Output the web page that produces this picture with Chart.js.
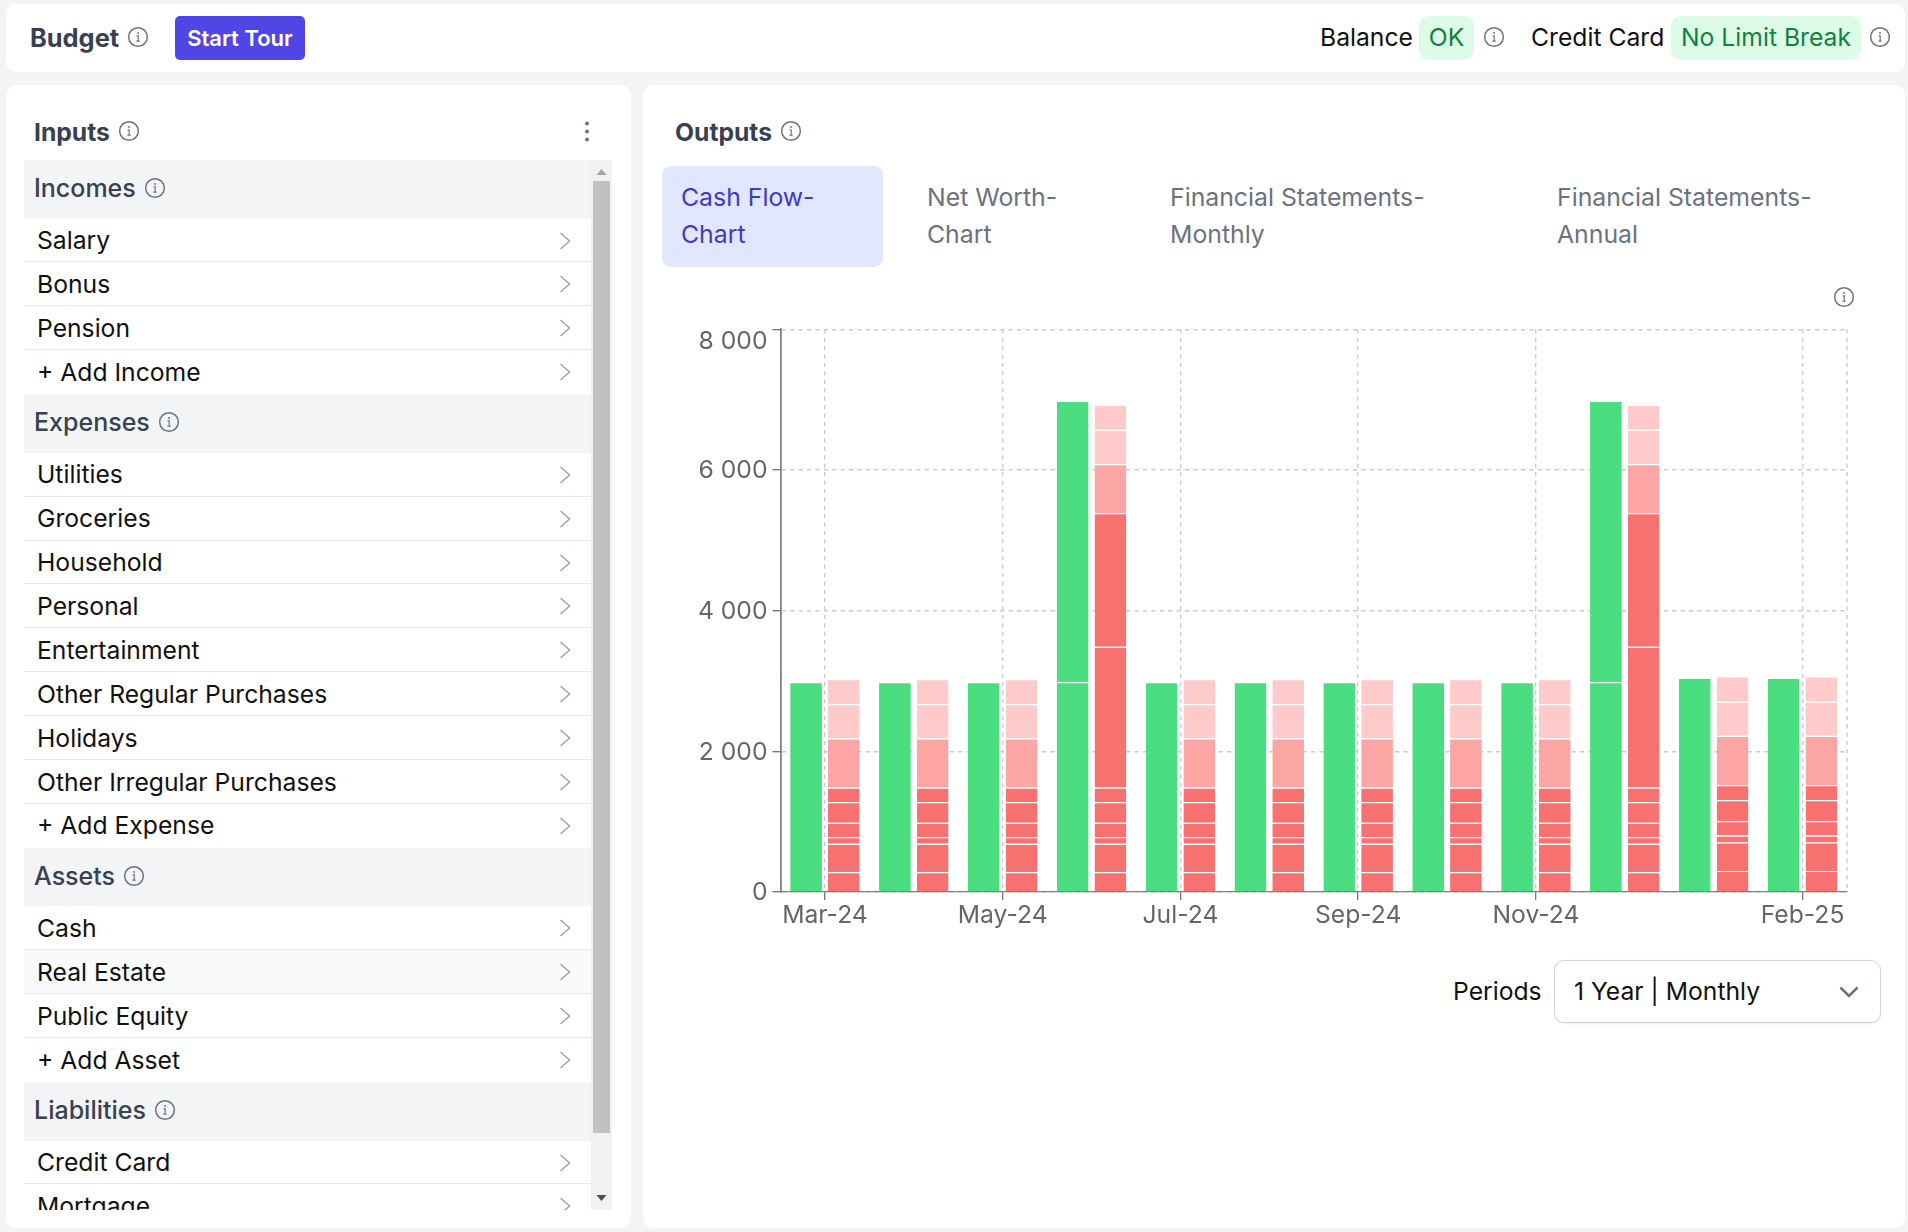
<!DOCTYPE html>
<html>
<head>
<meta charset="utf-8">
<title>Budget</title>
<script src="https://cdn.jsdelivr.net/npm/chart.js@4"></script>
<style>
html, body { margin: 0; padding: 0; }
body { width: 1908px; height: 1232px; background: #f3f4f6; font-family: Inter, sans-serif; position: relative; overflow: hidden; color: #111; }
.abs { position: absolute; white-space: nowrap; line-height: 1; }
.panel { position: absolute; background: #fff; border-radius: 10px; }
.title { font-size: 24.7px; font-weight: 700; color: #374151; transform: translateY(-50%); }
.info { position: absolute; width: 21px; height: 21px; transform: translate(-50%, -50%); }
.label { font-size: 24.7px; transform: translateY(-50%); }
.badge { position: absolute; top: 16px; height: 44px; line-height: 43px; background: #dcfce7; color: #15803d; font-size: 24.7px; border-radius: 10px; text-align: center; }
#startTour { position: absolute; left: 175px; top: 16px; width: 130px; height: 44px; line-height: 44px; background: #4f46e5; color: #fff; font-size: 22px; font-weight: 600; text-align: center; border-radius: 5px; }
#list { position: absolute; left: 24px; top: 160px; width: 588px; height: 1050px; overflow: hidden; }
.section { position: relative; width: 567px; height: 58.6px; background: #f3f4f6; }
.section span { position: absolute; left: 10px; top: 28px; transform: translateY(-50%); font-size: 25px; font-weight: 500; color: #374151; line-height: 1; }
.row { position: relative; width: 567px; height: 43.9px; box-sizing: border-box; border-bottom: 1px solid #e5e7eb; }
.row.last { border-bottom: none; }
.row.hover { background: #f9fafb; }
.row span { position: absolute; left: 13px; top: 21.6px; transform: translateY(-50%); font-size: 24.7px; color: #111; line-height: 1; }
.row svg { position: absolute; left: 535px; top: 13px; width: 12px; height: 18px; }
#track { position: absolute; left: 591px; top: 160px; width: 21px; height: 1050px; background: #f1f1f1; }
#thumb { position: absolute; left: 2px; top: 21px; width: 17px; height: 952px; background: #c1c1c1; }
.tab { position: absolute; top: 166px; height: 101px; box-sizing: border-box; padding-top: 13px; font-size: 24.8px; line-height: 37px; color: #6b7280; white-space: pre; }
#tabActive { left: 662px; width: 221px; padding-left: 19px; background: #e0e7ff; color: #4338ca; border-radius: 9px; }
#select { position: absolute; left: 1554px; top: 960px; width: 327px; height: 63px; box-sizing: border-box; background: #fff; border: 1px solid #d1d5db; border-radius: 10px; box-shadow: 0 1px 2px rgba(0,0,0,.08); }
#select span { position: absolute; left: 19px; top: 30px; transform: translateY(-50%); font-size: 24.7px; line-height: 1; white-space: nowrap; }
#select svg { position: absolute; left: 284px; top: 24px; width: 20px; height: 14px; }
#chartBox { position: absolute; left: 660px; top: 300px; width: 1240px; height: 650px; }
</style>
</head>
<body>
<svg width="0" height="0" style="position:absolute">
  <symbol id="i" viewBox="0 0 20 20">
    <circle cx="10" cy="10" r="8.9" fill="none" stroke="#6b7280" stroke-width="1.4"/>
    <circle cx="10" cy="6.2" r="0.9" fill="#6b7280"/>
    <path d="M8.6 9h1.6v5M8.4 14h3.2" fill="none" stroke="#6b7280" stroke-width="1.1"/>
  </symbol>
  <symbol id="chev" viewBox="0 0 12 18">
    <path d="M1.5 1 L10.5 9 L1.5 17" fill="none" stroke="#9ca3af" stroke-width="1.5"/>
  </symbol>
</svg>

<div class="panel" style="left:6px;top:4px;width:1899px;height:68px"></div>
<div class="panel" style="left:6px;top:85px;width:625px;height:1143px"></div>
<div class="panel" style="left:643px;top:85px;width:1262px;height:1143px"></div>

<span class="abs title" style="left:30px;top:37.5px;font-size:25.4px">Budget</span>
<svg class="info" style="left:137.5px;top:37px"><use href="#i"/></svg>
<div id="startTour">Start Tour</div>

<span class="abs label" style="left:1320px;top:37px">Balance</span>
<div class="badge" style="left:1419px;width:55px">OK</div>
<svg class="info" style="left:1493.5px;top:37px"><use href="#i"/></svg>
<span class="abs label" style="left:1531px;top:37px">Credit Card</span>
<div class="badge" style="left:1671px;width:190px">No Limit Break</div>
<svg class="info" style="left:1880px;top:37px"><use href="#i"/></svg>

<span class="abs title" style="left:34px;top:131.5px">Inputs</span>
<svg class="info" style="left:128.6px;top:131px"><use href="#i"/></svg>
<svg style="position:absolute;left:583px;top:120px" width="8" height="24">
  <circle cx="4" cy="3.5" r="2" fill="#6b7280"/><circle cx="4" cy="11.5" r="2" fill="#6b7280"/><circle cx="4" cy="19.5" r="2" fill="#6b7280"/>
</svg>

<div id="list"></div>
<div id="track">
  <div id="thumb"></div>
  <svg style="position:absolute;left:5px;top:8px" width="11" height="8"><path d="M0.5 7 L5.5 1 L10.5 7 Z" fill="#a3a3a3"/></svg>
  <svg style="position:absolute;left:5px;top:1034px" width="11" height="8"><path d="M0.5 1 L5.5 7 L10.5 1 Z" fill="#505050"/></svg>
</div>

<span class="abs title" style="left:675px;top:131.5px">Outputs</span>
<svg class="info" style="left:791px;top:131px"><use href="#i"/></svg>
<div class="tab" id="tabActive">Cash Flow-
Chart</div>
<div class="tab" style="left:927px">Net Worth-
Chart</div>
<div class="tab" style="left:1170px">Financial Statements-
Monthly</div>
<div class="tab" style="left:1557px">Financial Statements-
Annual</div>
<svg class="info" style="left:1843.5px;top:297px"><use href="#i"/></svg>

<div id="chartBox"><canvas id="flowChart" width="1240" height="650"></canvas></div>

<span class="abs label" style="left:1453px;top:991px">Periods</span>
<div id="select">
  <span>1 Year | Monthly</span>
  <svg viewBox="0 0 20 14"><path d="M1.5 2.5 L10 11 L18.5 2.5" fill="none" stroke="#6b7280" stroke-width="2.6"/></svg>
</div>

<script>
// Chart data
const months = ['Mar-24', 'Apr-24', 'May-24', 'Jun-24', 'Jul-24', 'Aug-24', 'Sep-24', 'Oct-24', 'Nov-24', 'Dec-24', 'Jan-25', 'Feb-25'];
const shownMonths = ['Mar-24', 'May-24', 'Jul-24', 'Sep-24', 'Nov-24', 'Feb-25'];
const yTicks = [0, 2000, 4000, 6000, 8000];

// Inflows
const inflowBase = [2985, 2985, 2985, 2985, 2985, 2985, 2985, 2985, 2985, 2985, 3045, 3045];
const inflowBonus = [0, 0, 0, 4000, 0, 0, 0, 0, 0, 4000, 0, 0];

// Outflows, bottom to top
const outflow1 = [285, 285, 285, 285, 285, 285, 285, 285, 285, 285, 300, 300];
const outflow2 = [400, 400, 400, 400, 400, 400, 400, 400, 400, 400, 405, 405];
const outflow3 = [96, 96, 96, 96, 96, 96, 96, 96, 96, 96, 98, 98];
const outflow4 = [204, 204, 204, 204, 204, 204, 204, 204, 204, 204, 207, 207];
const outflow5 = [293, 293, 293, 293, 293, 293, 293, 293, 293, 293, 298, 298];
const outflow6 = [208, 208, 208, 208, 208, 208, 208, 208, 208, 208, 212, 212];
const outflow7 = [0, 0, 0, 2000, 0, 0, 0, 0, 0, 2000, 0, 0];
const outflow8 = [0, 0, 0, 1900, 0, 0, 0, 0, 0, 1900, 0, 0];
const outflow9 = [700, 700, 700, 700, 700, 700, 700, 700, 700, 700, 700, 700];
const outflow10 = [485, 485, 485, 485, 485, 485, 485, 485, 485, 485, 485, 485];
const outflow11 = [355, 355, 355, 355, 355, 355, 355, 355, 355, 355, 360, 360];

// Sidebar list
const sidebar = [
    { title: 'Incomes', rows: ['Salary', 'Bonus', 'Pension', '+ Add Income'] },
    { title: 'Expenses', rows: ['Utilities', 'Groceries', 'Household', 'Personal', 'Entertainment', 'Other Regular Purchases', 'Holidays', 'Other Irregular Purchases', '+ Add Expense'] },
    { title: 'Assets', rows: ['Cash', 'Real Estate', 'Public Equity', '+ Add Asset'] },
    { title: 'Liabilities', rows: ['Credit Card', 'Mortgage'] }
];

function renderSidebar() {
    const list = document.getElementById('list');
    const infoLeft = { Incomes: 131, Expenses: 145, Assets: 110, Liabilities: 141 };
    list.innerHTML = sidebar.map(sec => {
        const rows = sec.rows.map((r, i) => {
            const cls = ['row'];
            if (i === sec.rows.length - 1 && sec.title !== 'Liabilities') cls.push('last');
            if (r === 'Real Estate') cls.push('hover');
            return `<div class="${cls.join(' ')}"><span>${r}</span><svg><use href="#chev"/></svg></div>`;
        }).join('');
        return `<div class="section"><span>${sec.title}</span>` +
            `<svg class="info" style="left:${infoLeft[sec.title]}px;top:28px"><use href="#i"/></svg></div>${rows}`;
    }).join('');
}

const GREEN = '#4ade80';
const RED_DARK = '#f87171';
const RED_MID = '#fca5a5';
const RED_LIGHT = '#fecaca';

function bar(label, data, color, stack) {
    return {
        label, data, stack,
        backgroundColor: color,
        borderColor: '#ffffff',
        borderWidth: { top: 1.2, bottom: 0, left: 0, right: 0 },
        borderSkipped: false
    };
}

// Dashed right edge of the plot, the grid has no line there
const plotFrame = {
    id: 'plotFrame',
    beforeDatasetsDraw(chart) {
        const { ctx, chartArea } = chart;
        ctx.save();
        ctx.strokeStyle = '#cccccc';
        ctx.lineWidth = 1.4;
        ctx.setLineDash([4.2, 4.2]);
        ctx.beginPath();
        ctx.moveTo(chartArea.right, chartArea.top);
        ctx.lineTo(chartArea.right, chartArea.bottom);
        ctx.stroke();
        ctx.restore();
    }
};

// y labels sit a little low, the top one well below its tick
const yLabelShift = {
    id: 'yLabelShift',
    afterLayout(chart) {
        const items = chart.scales.y.getLabelItems();
        items.forEach(item => { item.options.translation[1] += 1; });
        items[items.length - 1].options.translation[1] += 11.5;
    }
};

function renderChart() {
    new Chart(document.getElementById('flowChart'), {
        type: 'bar',
        data: {
            labels: months,
            datasets: [
                bar('Inflow base', inflowBase, GREEN, 'in'),
                bar('Inflow bonus', inflowBonus, GREEN, 'in'),
                bar('Outflow 1', outflow1, RED_DARK, 'out'),
                bar('Outflow 2', outflow2, RED_DARK, 'out'),
                bar('Outflow 3', outflow3, RED_DARK, 'out'),
                bar('Outflow 4', outflow4, RED_DARK, 'out'),
                bar('Outflow 5', outflow5, RED_DARK, 'out'),
                bar('Outflow 6', outflow6, RED_DARK, 'out'),
                bar('Outflow 7', outflow7, RED_DARK, 'out'),
                bar('Outflow 8', outflow8, RED_DARK, 'out'),
                bar('Outflow 9', outflow9, RED_MID, 'out'),
                bar('Outflow 10', outflow10, RED_LIGHT, 'out'),
                bar('Outflow 11', outflow11, RED_LIGHT, 'out')
            ]
        },
        options: {
            responsive: false,
            animation: false,
            devicePixelRatio: 1,
            categoryPercentage: 0.85,
            barPercentage: 0.84,
            layout: { padding: { top: 29.3, right: 53, left: 0, bottom: 0 } },
            plugins: { legend: { display: false }, tooltip: { enabled: false } },
            scales: {
                x: {
                    stacked: true,
                    afterFit: s => { s.height = 58; },
                    afterBuildTicks: s => {
                        s.ticks = s.ticks.filter(t => shownMonths.includes(months[t.value]));
                    },
                    border: { color: '#808080', width: 1.2, dash: [4.2, 4.2] },
                    grid: { offset: false, color: '#cccccc', lineWidth: 1.4, tickLength: 8, tickColor: '#666666', tickWidth: 1.2 },
                    ticks: { autoSkip: false, maxRotation: 0, padding: 1, color: '#666666', font: { family: 'Inter', size: 24.7 } }
                },
                y: {
                    stacked: true,
                    min: yTicks[0],
                    max: yTicks[yTicks.length - 1],
                    afterFit: s => { s.width = 120.5; },
                    afterBuildTicks: s => { s.ticks = yTicks.map(value => ({ value })); },
                    border: { color: '#808080', width: 1.8, dash: [4.2, 4.2] },
                    grid: { color: '#cccccc', lineWidth: 1.4, tickLength: 8, tickColor: '#666666', tickWidth: 1.2 },
                    ticks: {
                        padding: 5,
                        color: '#666666',
                        font: { family: 'Inter', size: 24.7 },
                        callback: v => String(v).replace(/\B(?=(\d{3})+$)/g, ' ')
                    }
                }
            }
        },
        plugins: [plotFrame, yLabelShift]
    });
}

renderSidebar();
renderChart();
</script>
</body>
</html>
